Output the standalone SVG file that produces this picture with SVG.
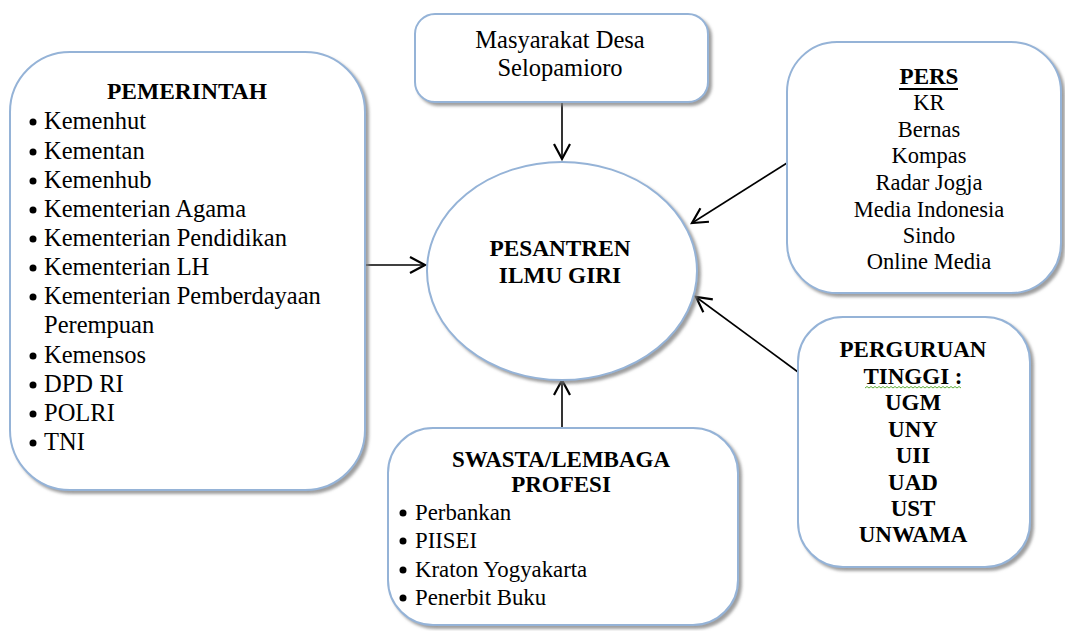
<svg xmlns="http://www.w3.org/2000/svg" width="1065" height="631" viewBox="0 0 1065 631">
<defs>
<filter id="sh" x="-10%" y="-10%" width="125%" height="125%">
<feDropShadow dx="3" dy="3" stdDeviation="1.5" flood-color="#7f7f7f" flood-opacity="0.75"/>
</filter>
<marker id="ah" markerWidth="20" markerHeight="20" refX="16" refY="10" orient="auto" markerUnits="userSpaceOnUse">
<path d="M1,2 L16,10 L1,18" fill="none" stroke="#000" stroke-width="2.2"/>
</marker>
</defs>
<style>
.box{fill:#fff;stroke:#95b3d7;stroke-width:2;filter:url(#sh)}
.b{font-weight:bold}
.c{text-anchor:middle}
.conn line{stroke:#000;stroke-width:1.6;marker-end:url(#ah)}
</style>
<g id="connectors" class="conn">
<line x1="562" y1="103" x2="562" y2="159"/>
<line x1="365" y1="265" x2="425" y2="265"/>
<line x1="787" y1="163" x2="692" y2="223"/>
<line x1="798" y1="372" x2="696" y2="297"/>
<line x1="562" y1="428" x2="562" y2="380"/>
</g>
<g font-family="Liberation Serif, Times New Roman, serif" fill="#000">
<g id="pemerintah">
<rect class="box" x="10" y="52" width="355" height="438" rx="60"/>
<text class="b c" x="187" y="99" font-size="23.5">PEMERINTAH</text>
<g font-size="24.5">
<text x="44" y="129">Kemenhut</text>
<text x="44" y="159">Kementan</text>
<text x="44" y="188">Kemenhub</text>
<text x="44" y="217">Kementerian Agama</text>
<text x="44" y="246">Kementerian Pendidikan</text>
<text x="44" y="275">Kementerian LH</text>
<text x="44" y="304">Kementerian Pemberdayaan</text>
<text x="44" y="333">Perempuan</text>
<text x="44" y="363">Kemensos</text>
<text x="44" y="392">DPD RI</text>
<text x="44" y="421">POLRI</text>
<text x="44" y="450">TNI</text>
</g>
<g>
<circle cx="33" cy="122" r="3.5"/><circle cx="33" cy="152" r="3.5"/><circle cx="33" cy="181" r="3.5"/><circle cx="33" cy="210" r="3.5"/><circle cx="33" cy="239" r="3.5"/><circle cx="33" cy="268" r="3.5"/><circle cx="33" cy="297" r="3.5"/><circle cx="33" cy="356" r="3.5"/><circle cx="33" cy="385" r="3.5"/><circle cx="33" cy="414" r="3.5"/><circle cx="33" cy="443" r="3.5"/>
</g>
</g>
<g id="masyarakat">
<rect class="box" x="415" y="14" width="293" height="88" rx="20"/>
<text class="c" x="560" y="48" font-size="24.5">Masyarakat Desa</text>
<text class="c" x="560" y="76" font-size="24.5">Selopamioro</text>
</g>
<g id="pers">
<rect class="box" x="787" y="42" width="274" height="251" rx="50"/>
<text class="b c" x="929" y="84" font-size="23">PERS</text>
<line x1="899" y1="89" x2="958" y2="89" stroke="#000" stroke-width="2"/>
<g class="c" font-size="22.5">
<text x="929" y="110">KR</text>
<text x="929" y="137">Bernas</text>
<text x="929" y="163">Kompas</text>
<text x="929" y="190">Radar Jogja</text>
<text x="929" y="217">Media Indonesia</text>
<text x="929" y="243">Sindo</text>
<text x="929" y="269">Online Media</text>
</g>
</g>
<g id="perguruan">
<rect class="box" x="798" y="317" width="232" height="250" rx="45"/>
<g class="b c" font-size="23">
<text x="913" y="357">PERGURUAN</text>
<text x="913" y="384">TINGGI :</text>
<text x="913" y="410">UGM</text>
<text x="913" y="437">UNY</text>
<text x="913" y="463">UII</text>
<text x="913" y="490">UAD</text>
<text x="913" y="516">UST</text>
<text x="913" y="542">UNWAMA</text>
</g>
<path d="M865,388 l2,-1.5 l2,1.5 l2,-1.5 l2,1.5 l2,-1.5 l2,1.5 l2,-1.5 l2,1.5 l2,-1.5 l2,1.5 l2,-1.5 l2,1.5 l2,-1.5 l2,1.5 l2,-1.5 l2,1.5 l2,-1.5 l2,1.5 l2,-1.5 l2,1.5 l2,-1.5 l2,1.5 l2,-1.5 l2,1.5 l2,-1.5 l2,1.5 l2,-1.5 l2,1.5 l2,-1.5 l2,1.5 l2,-1.5 l2,1.5 l2,-1.5 l2,1.5 l2,-1.5 l2,1.5 l2,-1.5 l2,1.5 l2,-1.5 l2,1.5 l2,-1.5 l2,1.5 l2,-1.5 l2,1.5 l2,-1.5 l2,1.5 l2,-1.5 l2,1.5" fill="none" stroke="#5fae3a" stroke-width="1"/>
</g>
<g id="swasta">
<rect class="box" x="388" y="428" width="350" height="197" rx="45"/>
<text class="b c" x="561" y="467" font-size="23">SWASTA/LEMBAGA</text>
<text class="b c" x="561" y="492" font-size="23">PROFESI</text>
<g font-size="22.8">
<text x="415" y="520">Perbankan</text>
<text x="415" y="548">PIISEI</text>
<text x="415" y="577">Kraton Yogyakarta</text>
<text x="415" y="605">Penerbit Buku</text>
</g>
<g>
<circle cx="403" cy="513" r="3.5"/><circle cx="403" cy="541" r="3.5"/><circle cx="403" cy="570" r="3.5"/><circle cx="403" cy="598" r="3.5"/>
</g>
</g>
<g id="pesantren">
<ellipse class="box" cx="562" cy="271" rx="135" ry="109"/>
<text class="b c" x="560" y="256" font-size="23.3">PESANTREN</text>
<text class="b c" x="560" y="283" font-size="23.3">ILMU GIRI</text>
</g>
</g>
</svg>
